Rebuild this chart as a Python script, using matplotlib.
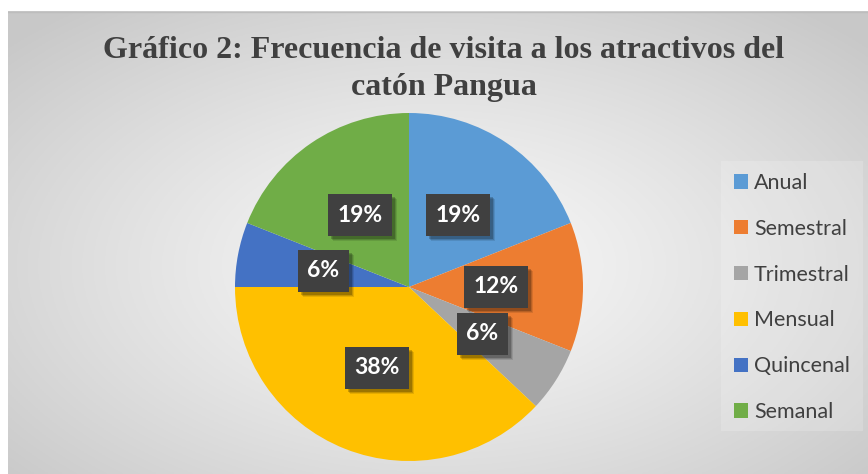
import numpy as np
import matplotlib
matplotlib.use("Agg")
import matplotlib.pyplot as plt
from matplotlib.patches import Rectangle

categories = ["Anual", "Semestral", "Trimestral", "Mensual", "Quincenal", "Semanal"]
values = [19, 12, 6, 38, 6, 19]
colors = ["#5B9BD5", "#ED7D31", "#A5A5A5", "#FFC000", "#4472C4", "#70AD47"]
title_lines = ["Gráfico 2: Frecuencia de visita a los atractivos del", "catón Pangua"]

W, H = 868, 474
fig = plt.figure(figsize=(W / 100, H / 100), dpi=100)
fig.patch.set_facecolor("white")

# background radial gradient for chart area
bg = fig.add_axes([8 / W, 0, (W - 8) / W, (H - 11) / H])
bg.set_axis_off()
nx, ny = 430, 240
xx, yy = np.meshgrid(np.linspace(-1, 1, nx), np.linspace(-1, 1, ny))
cx, cy = 0.0, -0.1
d = np.sqrt(((xx - cx) / 1.05) ** 2 + ((yy - cy) / 1.1) ** 2)
d = np.clip(d, 0, 1.3) / 1.3
v = 0.975 - 0.19 * d ** 1.2
img = np.dstack([v, v, v])
bg.imshow(img, extent=[0, 1, 0, 1], aspect="auto", origin="lower")
bg.set_xlim(0, 1)
bg.set_ylim(0, 1)
bg.plot([0, 1], [0.998, 0.998], color="#bdbdbd", lw=1)

# title
for i, line in enumerate(title_lines):
    fig.text(444 / W, 1 - (50 + 38 * i) / H, line, ha="center", va="center",
             fontsize=23, fontweight="bold", family="Liberation Serif", color="#404040")

# pie
cxp, cyp, r = 409, 287, 174
ax = fig.add_axes([(cxp - r) / W, (H - cyp - r) / H, 2 * r / W, 2 * r / H])
ax.set_axis_off()
wedges, texts, autotexts = ax.pie(values, colors=colors, startangle=90, counterclock=False,
                                   autopct=lambda p: f"{p:.0f}%", pctdistance=0.5,
                                   wedgeprops=dict(linewidth=0),
                                   textprops=dict(color="white", fontsize=16.5, fontweight="bold",
                                                  family="Lato"))
ax.set_xlim(-1, 1)
ax.set_ylim(-1, 1)
ax.set_aspect("equal")

# legend
fig.patches.append(Rectangle((721 / W, 1 - 431 / H), (863 - 721) / W, (431 - 161) / H,
                             transform=fig.transFigure, fc="white", alpha=0.18, ec="none"))
handles = [Rectangle((0, 0), 1, 1, fc=c, ec="none") for c in colors]
leg = fig.legend(handles, categories, loc="upper left", bbox_to_anchor=(734 / W, 1 - 173 / H),
                 frameon=False, borderaxespad=0, borderpad=0, prop=dict(family="Lato", size=15.5),
                 handlelength=0.65, handleheight=0.65, handletextpad=0.28, labelspacing=1.2,
                 labelcolor="#404040")

# label boxes with soft shadow, sized from the rendered text
fig.canvas.draw()
renderer = fig.canvas.get_renderer()
for t in autotexts:
    bb = t.get_window_extent(renderer)
    xc = (bb.x0 + bb.x1) / 2
    yc = (bb.y0 + bb.y1) / 2
    bw = bb.width + 19
    bh = 42
    for dx, dy, a in [(5, -5, 0.10), (4, -4, 0.14), (3, -3, 0.2)]:
        ax.add_patch(Rectangle((xc - bw / 2 + dx, yc - bh / 2 + dy), bw, bh, transform=None,
                               fc="black", ec="none", alpha=a, zorder=3))
    ax.add_patch(Rectangle((xc - bw / 2, yc - bh / 2), bw, bh, transform=None,
                           fc="#404040", ec="none", zorder=4))
    t.set_zorder(5)

fig.savefig("out.png", dpi=100)
